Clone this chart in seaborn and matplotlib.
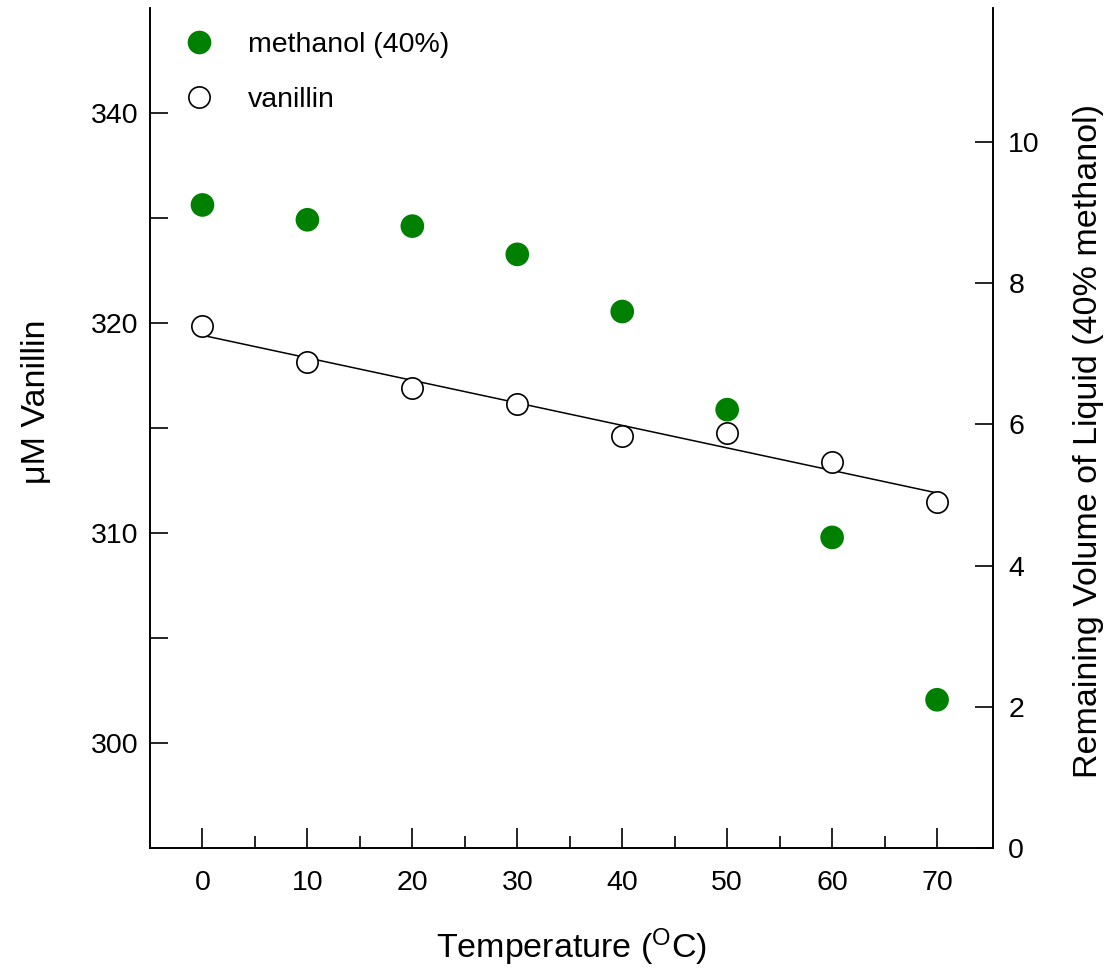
import matplotlib
matplotlib.use("Agg")
import matplotlib.pyplot as plt
from matplotlib.lines import Line2D
import seaborn as sns
import pandas as pd

# ---- data ----
temperature = [0, 10, 20, 30, 40, 50, 60, 70]
vanillin_uM = [319.86, 318.12, 316.90, 316.14, 314.60, 314.76, 313.40, 311.50]
methanol_volume = [9.11, 8.90, 8.81, 8.41, 7.60, 6.21, 4.40, 2.10]

left_ticks = [300, 305, 310, 315, 320, 325, 330]
left_ticklabels = ["300", "", "310", "", "320", "", "340"]
right_ticks = [0, 2, 4, 6, 8, 10]
x_ticks = [0, 10, 20, 30, 40, 50, 60, 70]
x_minor_ticks = [5, 15, 25, 35, 45, 55, 65]

labels_legend = ["methanol (40%)", "vanillin"]

df = pd.DataFrame({"T": temperature, "van": vanillin_uM, "meth": methanol_volume})

sns.set_style("white")
plt.rcParams["font.family"] = ["Liberation Sans", "DejaVu Sans"]
plt.rcParams["mathtext.fontset"] = "custom"
plt.rcParams["mathtext.rm"] = "Liberation Sans"
plt.rcParams["text.color"] = "black"
plt.rcParams["axes.labelcolor"] = "black"

GREEN = "#008000"

fig = plt.figure(figsize=(11.14, 9.71), dpi=100)
ax = fig.add_axes([150 / 1114, (971 - 848) / 971, (993 - 150) / 1114, (848 - 8) / 971])

sns.regplot(data=df, x="T", y="van", ax=ax, ci=None, scatter=False,
            line_kws=dict(color="black", lw=1.1, zorder=2))
sns.scatterplot(data=df, x="T", y="van", ax=ax, s=235, marker="o",
                facecolor="white", edgecolor="black", linewidth=1.2, zorder=3)

ax.set_xlim(-5, 75.33)
ax.set_ylim(295, 335)
ax.set_xticks(x_ticks)
ax.set_xticks(x_minor_ticks, minor=True)
ax.set_yticks(left_ticks)
ax.set_yticklabels(left_ticklabels)

ax2 = ax.twinx()
sns.scatterplot(data=df, x="T", y="meth", ax=ax2, s=290, marker="o",
                color=GREEN, edgecolor="none", zorder=3)
ax2.set_ylim(0, 11.9)
ax2.set_yticks(right_ticks)
ax2.set_xlim(-5, 75.33)

for a in (ax, ax2):
    a.spines["top"].set_visible(False)
    for s in ("left", "right", "bottom"):
        a.spines[s].set_color("black")
        a.spines[s].set_linewidth(1.2)

ax.tick_params(axis="x", which="major", direction="in", length=14.5, width=1.2,
               color="black", labelsize=20.5, labelcolor="black", pad=16,
               bottom=True, top=False)
ax.tick_params(axis="x", which="minor", direction="in", length=9, width=1.2,
               color="black", bottom=True, top=False)
ax.tick_params(axis="y", which="major", direction="in", length=13, width=1.2,
               color="black", labelsize=20.5, labelcolor="black", pad=8,
               left=True, right=False)
ax2.tick_params(axis="y", which="major", direction="in", length=13, width=1.2,
                color="black", labelsize=20.5, labelcolor="black", pad=11,
                right=True, left=False)

ax.set_xlabel("Temperature ($\\mathregular{^O}$C)", fontsize=24.5, color="black")
ax.xaxis.set_label_coords(0.4994, -0.093)
ax.set_ylabel("\u03bcM Vanillin", fontsize=24.5, color="black")
ax.yaxis.set_label_coords(-0.116, 0.531)
ax2.set_ylabel("Remaining Volume of Liquid (40% methanol)", fontsize=24.5, color="black")
ax2.yaxis.set_label_coords(1.095, 0.4845)

handles = [
    Line2D([], [], ls="none", marker="o", markersize=17.0, markerfacecolor=GREEN,
           markeredgecolor="none"),
    Line2D([], [], ls="none", marker="o", markersize=15.3, markerfacecolor="white",
           markeredgecolor="black", markeredgewidth=1.2),
]
leg = ax2.legend(handles, labels_legend, loc="upper left", bbox_to_anchor=(0.018, 0.995),
                 frameon=False, fontsize=20.5, handletextpad=1.2, labelspacing=1.0,
                 borderaxespad=0.3, handlelength=1.0, labelcolor="black")

fig.savefig("out.png", dpi=100)
